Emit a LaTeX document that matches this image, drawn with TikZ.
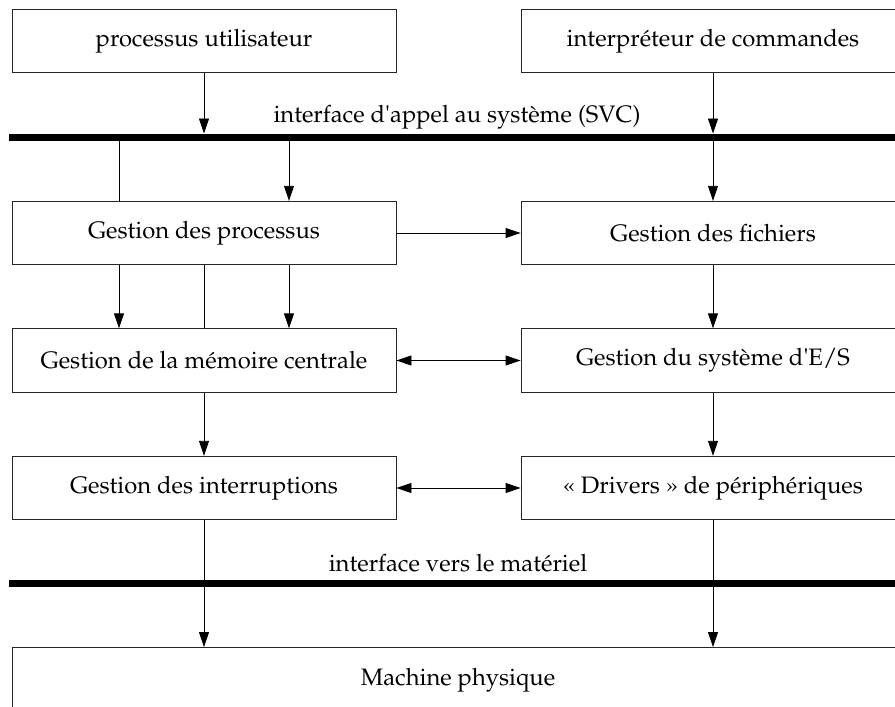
\documentclass[tikz,border=0pt]{standalone}
\usepackage[T1]{fontenc}
\usepackage{mathpazo}
\usepackage{textcomp}
\usetikzlibrary{arrows.meta}
\begin{document}
\begin{tikzpicture}[x=1pt,y=-1pt,
  txt/.style={font=\fontsize{23.8}{28}\selectfont},
  box/.style={txt, draw=black!85, line width=0.9pt, minimum width=384pt, minimum height=63.5pt, inner sep=0pt},
  lbl/.style={txt, inner sep=0pt},
  arr/.style={line width=0.9pt, -{Triangle[length=15pt,width=10pt]}},
  dbl/.style={line width=0.9pt, {Triangle[length=15pt,width=10pt]}-{Triangle[length=15pt,width=10pt]}},
  ln/.style={line width=0.9pt},
  bar/.style={line width=7pt}]
\useasboundingbox (0,0) rectangle (895,707);
\node[box] (pu) at (204,41) {processus utilisateur};
\node[box] (ic) at (713,41) {interpr\'eteur de commandes};
\coordinate (b1a) at (9,137);
\coordinate (b1b) at (900,137);
\node[lbl] (svc) at (457,117) {interface d\textquotesingle appel au syst\`eme (SVC)};
\node[box] (gp) at (204,233) {Gestion des processus};
\node[box] (gf) at (713,233) {Gestion des fichiers};
\node[box] (gm) at (204,360.5) {Gestion de la m\'emoire centrale};
\node[box] (ge) at (713,360.5) {Gestion du syst\`eme d\textquotesingle E/S};
\node[box] (gi) at (204,488) {Gestion des interruptions};
\node[box] (dr) at (713,488) {\guillemotleft~Drivers~\guillemotright{} de p\'eriph\'eriques};
\coordinate (b2a) at (9,583.5);
\coordinate (b2b) at (900,583.5);
\node[lbl] (hw) at (458,563) {interface vers le mat\'eriel};
\node[box, minimum width=892pt, minimum height=65pt] (mp) at (458,680) {Machine physique};
% connectors
\draw[arr, shorten >=3.5pt] (pu.south) -- (pu.south |- b1a);
\draw[arr, shorten >=3.5pt] (ic.south) -- (ic.south |- b1a);
\draw[ln] ([xshift=-85pt]gp.north |- b1a) -- ([xshift=-85pt]gp.north);
\draw[arr] ([xshift=85pt]gp.north |- b1a) -- ([xshift=85pt]gp.north);
\draw[arr] (gf.north |- b1a) -- (gf.north);
\draw[arr] (gp) -- (gf);
\draw[arr] ([xshift=-85pt]gp.south) -- ([xshift=-85pt]gm.north);
\draw[ln] (gp.south) -- (gm.north);
\draw[arr] ([xshift=85pt]gp.south) -- ([xshift=85pt]gm.north);
\draw[arr] (gf) -- (ge);
\draw[dbl] (gm) -- (ge);
\draw[arr] (gm) -- (gi);
\draw[arr] (ge) -- (dr);
\draw[dbl] (gi) -- (dr);
\draw[arr] (gi.south) -- (gi.south |- mp.north);
\draw[arr] (dr.south) -- (dr.south |- mp.north);
% bars
\draw[bar] (b1a) -- (b1b);
\draw[bar] (b2a) -- (b2b);
\end{tikzpicture}
\end{document}
